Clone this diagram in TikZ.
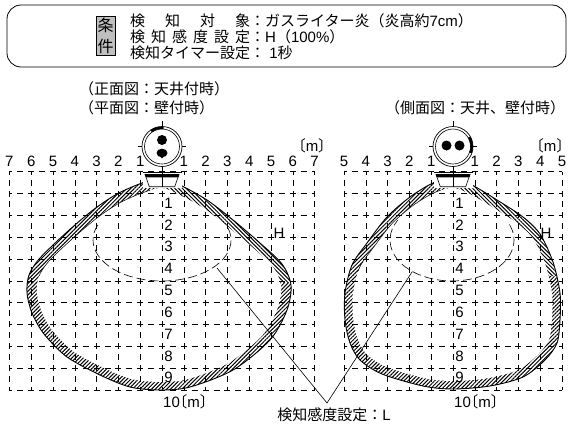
\documentclass[tikz,border=0pt]{standalone}
\usepackage{fontspec}
\setmainfont{Noto Sans CJK JP}
\newfontfamily\latn{Liberation Sans}
\newfontfamily\jphalf{Noto Sans CJK JP}[RawFeature=+halt]
\usetikzlibrary{patterns.meta}
\newcommand\jsz{\normalfont\fontsize{15}{16}\selectfont}
\newcommand\nsz{\latn\fontsize{15}{16}\selectfont}
\newcommand\mylbr{{\jphalf\fontsize{15}{16}\selectfont 〔}}
\newcommand\myrbr{{\jphalf\fontsize{15}{16}\selectfont 〕}}
\newcommand\LeftShape{plot[smooth cycle] coordinates {(162,178) (180,185) (207,200) (233,220) (260,243) (282,264) (291,285) (287,310) (270,340) (233,370) (190,387) (160,390) (130,387) (100,375) (67,357) (44,334) (32,313) (27,293) (29,275) (40,258) (67,232) (93,210) (117,194) (142,183)}}
\newcommand\RightShape{plot[smooth cycle] coordinates {(453,178) (472,185) (497,200) (523,217) (540,234) (553,262) (560,293) (560,320) (557,343) (545,360) (523,377) (490,386) (453,389) (423,386) (382,374) (360,360) (350,343) (345,320) (345,293) (352,265) (367,243) (387,217) (410,197) (433,183)}}
\begin{document}
\begin{tikzpicture}[x=1pt,y=-1pt,
  boxline/.style={line width=0.8pt},
  gridline/.style={line width=0.6pt, dash pattern=on 6pt off 4.9pt, dash phase=3pt},
  lcurve/.style={line width=0.6pt, dash pattern=on 9pt off 4pt},
  outline/.style={line width=0.9pt},
  innerline/.style={line width=0.5pt},
  hatchNE/.style={pattern={Lines[angle=45,distance=2.7pt,line width=1pt]}},
  hatchNW/.style={pattern={Lines[angle=-45,distance=2.7pt,line width=1pt]}},
  num/.style={font=\nsz, inner sep=0pt},
  jtxt/.style={font=\jsz, inner sep=0pt},
  jbox/.style={draw, line width=0.7pt, fill=gray!50, inner sep=1.5pt, align=center, font=\normalfont\fontsize{16}{21}\selectfont},
  leader/.style={line width=0.6pt},
  det/.pic={
    \draw[line width=0.6pt] (0,-26) -- (0,-20);
    \draw[line width=0.6pt] (-24,0) -- (-20,0);
    \draw[line width=0.6pt] (20,0) -- (24,0);
    \draw[line width=0.6pt] (0,20) -- (0,25);
    \draw[line width=0.7pt, fill=white] (0,0) circle[radius=20];
    \draw[line width=0.6pt] (0,0) circle[radius=17.5];
    \fill[white] (-19.5,25.5) rectangle (19.5,41);
    \draw[line width=0.6pt] (-19.5,26.2) -- (19.5,26.2);
    \fill (-17.5,27.6) -- (17.5,27.6) -- (16.5,30.8) -- (-16.5,30.8) -- cycle;
    \draw[line width=0.6pt] (-16,30.8) -- (-12.7,40.2) -- (12.7,40.2) -- (16,30.8);
    \draw[line width=0.6pt] (0,26.2) -- (0,40.2);
  }
]
\useasboundingbox (0,0) rectangle (568,426);

% ---------- condition box ----------
\draw[boxline, rounded corners=14pt] (7,5) rectangle (566,67);
\node[jbox] (jk) at (105.5,36) {条\\件};
\node[jtxt, anchor=west] (c1) at (130,21) {\makebox[8em][s]{検\hfill 知\hfill 対\hfill 象}：ガスライター炎（炎高約{\latn 7cm}）};
\node[jtxt, anchor=west] (c2) at (130,37) {\makebox[8em][s]{検\hfill 知\hfill 感\hfill 度\hfill 設\hfill 定}：{\latn H}（{\latn 100\%}）};
\node[jtxt, anchor=west] (c3) at (130,53) {検知タイマー設定：{\latn\ 1}秒};

% ---------- subtitles ----------
\node[jtxt, anchor=west] (s1) at (79,89) {（正面図：天井付時）};
\node[jtxt, anchor=west] (s2) at (79,108) {（平面図：壁付時）};
\node[jtxt, anchor=west] (s3) at (385,108) {（側面図：天井、壁付時）};

% ---------- left view: coverage ----------
\fill[hatchNE] \LeftShape;
\begin{scope}
  \clip (162,165) rectangle (300,282);
  \fill[white] \LeftShape;
  \fill[hatchNW] \LeftShape;
\end{scope}
\begin{scope}[shift={(159,295)}, xscale=0.925, yscale=0.915, shift={(-159,-295)}]
  \fill[white] \LeftShape;
\end{scope}
\begin{scope}
  \clip (0,165) rectangle (150,275);
  \begin{scope}[shift={(159,295)}, xscale=0.925, yscale=0.915, shift={(-159,-295)}]
    \draw[innerline] \LeftShape;
  \end{scope}
\end{scope}
\draw[outline] \LeftShape;

% ---------- right view: coverage ----------
\fill[hatchNE] \RightShape;
\begin{scope}
  \clip (453,165) rectangle (568,275);
  \fill[white] \RightShape;
  \fill[hatchNW] \RightShape;
\end{scope}
\begin{scope}[shift={(453,295)}, xscale=0.925, yscale=0.915, shift={(-453,-295)}]
  \fill[white] \RightShape;
\end{scope}
\begin{scope}
  \clip (330,165) rectangle (441,270);
  \begin{scope}[shift={(453,295)}, xscale=0.925, yscale=0.915, shift={(-453,-295)}]
    \draw[innerline] \RightShape;
  \end{scope}
\end{scope}
\draw[outline] \RightShape;

% ---------- grids ----------
\foreach \k in {0,...,10} {
  \draw[gridline] (9.4,{171.7+21.83*\k}) -- (314.6,{171.7+21.83*\k});
  \draw[gridline] (344,{171.7+21.83*\k}) -- (562,{171.7+21.83*\k});
}
\foreach \k in {0,...,14}
  \draw[gridline] ({9.4+21.8*\k},171.7) -- ({9.4+21.8*\k},390);
\foreach \k in {0,...,10}
  \draw[gridline] ({344+21.8*\k},171.7) -- ({344+21.8*\k},390);

% ---------- L (dashed) regions ----------
\draw[lcurve] (228,228) arc[start angle=-17, end angle=206, x radius=69, y radius=41];
\draw[lcurve] (509.5,224.6) arc[start angle=-22, end angle=209, x radius=62, y radius=41];

% ---------- axis numbers ----------
\foreach \k in {1,...,7} {
  \node[num] at ({162-21.8*\k},161.5) {\k};
  \node[num] at ({162+21.8*\k},161.5) {\k};
}
\foreach \k in {1,...,5} {
  \node[num] at ({453-21.8*\k},161.5) {\k};
  \node[num] at ({453+21.8*\k},161.5) {\k};
}
\foreach \k in {1,...,9} {
  \node[num] at (168.5,{171.7+21.83*\k+9.5}) {\k};
  \node[num] at (459.5,{171.7+21.83*\k+9.5}) {\k};
}
\node[num, anchor=west] (m1) at (163,401.5) {10\mylbr m\myrbr};
\node[num, anchor=west] (m2) at (454,401.5) {10\mylbr m\myrbr};
\node[num] (m3) at (312,145.5) {\mylbr m\myrbr};
\node[num] (m4) at (550,145.5) {\mylbr m\myrbr};
\node[num] (h1) at (279,233) {H};
\node[num] (h2) at (546,233) {H};

% ---------- leader to L label ----------
\coordinate (la) at (217,268);
\coordinate (lb) at (412,272);
\coordinate (lap) at (327,403);
\draw[leader] (la) -- (lap) -- (lb);
\node[jtxt] (lt) at (334,415) {検知感度設定：{\latn L}};

% ---------- detectors ----------
\pic at (162,146.5) {det};
\fill (162,140) circle[radius=5];
\fill (162,153) ellipse[x radius=5.5, y radius=4.3];
\fill (159,155) -- (162,158.5) -- (165,155) -- cycle;
\draw[line width=2.5pt] (162,146.5) ++(-125:18.75) arc[start angle=-125, end angle=-85, radius=18.75];

\pic at (453,146.5) {det};
\fill (446.5,145.5) circle[radius=5];
\fill (459.5,145.5) circle[radius=5];
\draw[line width=2.5pt] (453,146.5) ++(-30:18.75) arc[start angle=-30, end angle=20, radius=18.75];
\end{tikzpicture}
\end{document}
